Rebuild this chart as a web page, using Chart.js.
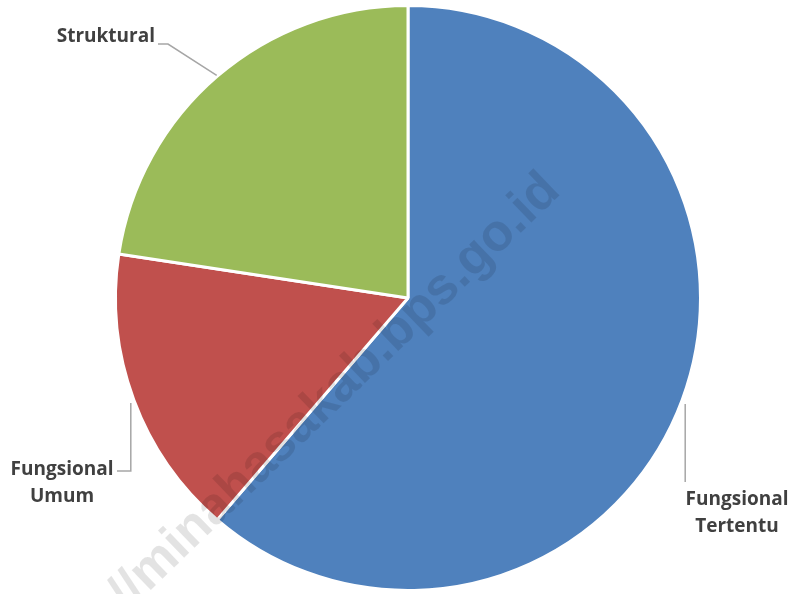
<!DOCTYPE html>
<html>
<head>
<meta charset="utf-8">
<script src="https://cdn.jsdelivr.net/npm/chart.js@4/dist/chart.umd.min.js"></script>
<style>
  html, body { margin: 0; padding: 0; background: #fff; }
  #chart { display: block; }
</style>
</head>
<body>
<canvas id="chart" width="795" height="594"></canvas>
<script>
// jabatan pegawai (persen)
var categories = ['Fungsional Tertentu', 'Fungsional Umum', 'Struktural'];
var values = [61.3, 16.1, 22.6];
var colors = ['#4F81BD', '#C0504D', '#9BBB59'];

// text lines for each slice label
var labelLines = [['Fungsional', 'Tertentu'], ['Fungsional', 'Umum'], ['Struktural']];

var labelFont = 'bold 19px "Open Sans", Lato, sans-serif';
var labelColor = '#404040';
var leaderColor = '#A6A6A6';

// leader lines + labels, anchored on the outer edge of each arc at its mid angle
var sliceLabels = {
    id: 'sliceLabels',
    afterDatasetsDraw: function (chart) {
        var ctx = chart.ctx;
        var arcs = chart.getDatasetMeta(0).data;
        var pts = arcs.map(function (arc) {
            var p = arc.getProps(['x', 'y', 'startAngle', 'endAngle', 'outerRadius'], true);
            var a = (p.startAngle + p.endAngle) / 2;
            var r = p.outerRadius + 1;
            return { x: p.x + r * Math.cos(a), y: p.y + r * Math.sin(a) };
        });

        // path for each leader and where its text goes
        var layout = [
            { path: [[pts[0].x + 2, pts[0].y + 4], [pts[0].x + 2, 482]], tx: 737, ty: 500, align: 'center' },
            { path: [[pts[1].x - 2, pts[1].y + 3], [pts[1].x - 2, 471], [117, 471]], tx: 62, ty: 470, align: 'center' },
            { path: [[pts[2].x, pts[2].y], [168, 44], [158, 44]], tx: 155, ty: 37, align: 'right' }
        ];

        ctx.save();
        ctx.strokeStyle = leaderColor;
        ctx.lineWidth = 1.5;
        layout.forEach(function (l) {
            ctx.beginPath();
            l.path.forEach(function (q, k) {
                if (k === 0) ctx.moveTo(q[0], q[1]); else ctx.lineTo(q[0], q[1]);
            });
            ctx.stroke();
        });

        ctx.font = labelFont;
        ctx.fillStyle = labelColor;
        ctx.textBaseline = 'middle';
        layout.forEach(function (l, i) {
            ctx.textAlign = l.align;
            labelLines[i].forEach(function (line, k) {
                ctx.fillText(line, l.tx, l.ty + k * 27);
            });
        });
        ctx.restore();
    }
};

// faint site watermark across the pie
var watermark = {
    id: 'watermark',
    afterDraw: function (chart) {
        var ctx = chart.ctx;
        ctx.save();
        ctx.translate(562, 193);
        ctx.rotate(-44 * Math.PI / 180);
        ctx.font = 'bold 52px "Liberation Sans", Arial, sans-serif';
        ctx.fillStyle = 'rgba(0, 0, 0, 0.11)';
        ctx.textAlign = 'right';
        ctx.textBaseline = 'alphabetic';
        ctx.fillText('http://minahasakab.bps.go.id', 0, 0);
        ctx.restore();
    }
};

var ctx = document.getElementById('chart').getContext('2d');
var chart = new Chart(ctx, {
    type: 'pie',
    data: {
        labels: categories,
        datasets: [{
            data: values,
            backgroundColor: colors,
            borderColor: '#ffffff',
            borderWidth: 3
        }]
    },
    options: {
        responsive: false,
        animation: false,
        layout: {
            padding: { left: 114, right: 93, top: 4, bottom: 2 }
        },
        plugins: {
            legend: { display: false },
            tooltip: { enabled: false }
        }
    },
    plugins: [sliceLabels, watermark]
});
</script>
</body>
</html>
